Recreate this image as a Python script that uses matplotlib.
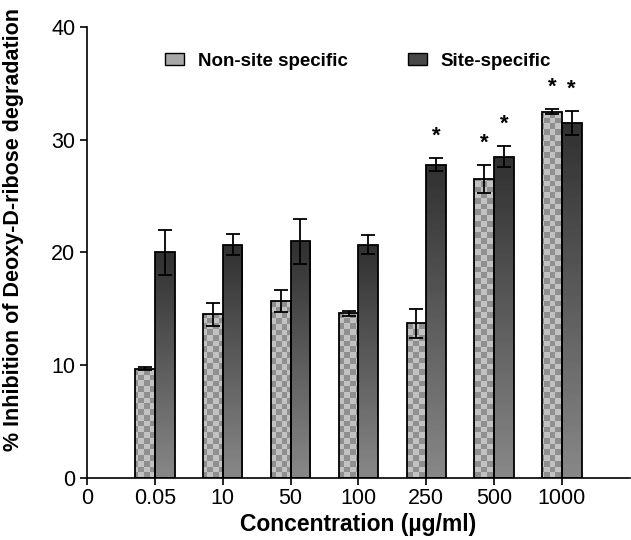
import matplotlib
matplotlib.use("Agg")
import matplotlib.pyplot as plt
import numpy as np
from matplotlib.patches import Patch

plt.rcParams['font.family'] = ['Liberation Sans', 'DejaVu Sans']

conc = ["0", "0.05", "10", "50", "100", "250", "500", "1000"]
non_site = [9.7, 14.5, 15.7, 14.6, 13.7, 26.5, 32.5]
non_site_err = [0.1, 1.0, 1.0, 0.25, 1.3, 1.25, 0.2]
site = [20.0, 20.7, 21.0, 20.7, 27.8, 28.5, 31.5]
site_err = [2.0, 0.95, 2.0, 0.85, 0.6, 0.95, 1.05]
star_non = [False, False, False, False, False, True, True]
star_site = [False, False, False, False, True, True, True]

fig = plt.figure(figsize=(6.31, 5.4), dpi=100)
ax = fig.add_axes([0.138, 0.115, 0.86, 0.835])

x = np.arange(1, len(non_site) + 1)
w = 0.29

# checkerboard for non-site bars (~5.7 px squares), gradient for site bars
cb = np.indices((79, 95)).sum(axis=0) % 2
cb_img = np.where(cb == 1, 0.76, 0.56)
grad = np.linspace(0.19, 0.53, 100).reshape(-1, 1)

b1 = ax.bar(x - w / 2, non_site, w, facecolor='none', edgecolor='black', linewidth=1.3, zorder=3)
b2 = ax.bar(x + w / 2, site, w, facecolor='none', edgecolor='black', linewidth=1.3, zorder=3)

for r in b1:
    im = ax.imshow(cb_img, cmap='gray', vmin=0, vmax=1, aspect='auto',
                   extent=(0, 8, 0, 40), zorder=2, interpolation='nearest')
    im.set_clip_path(r)
for r in b2:
    x0, y1 = r.get_x(), r.get_height()
    im = ax.imshow(grad, cmap='gray', vmin=0, vmax=1, aspect='auto',
                   extent=(x0, x0 + r.get_width(), 0, y1), zorder=2)
    im.set_clip_path(r)

ax.errorbar(x - w / 2, non_site, yerr=non_site_err, fmt='none', ecolor='black',
            elinewidth=1.3, capsize=5, capthick=1.3, zorder=4)
ax.errorbar(x + w / 2, site, yerr=site_err, fmt='none', ecolor='black',
            elinewidth=1.3, capsize=5, capthick=1.3, zorder=4)

for i in range(len(x)):
    if star_non[i]:
        ax.text(x[i] - w / 2, non_site[i] + non_site_err[i] + 1.0, "*",
                ha='center', va='bottom', fontsize=16, fontweight='bold')
    if star_site[i]:
        ax.text(x[i] + w / 2, site[i] + site_err[i] + 1.0, "*",
                ha='center', va='bottom', fontsize=16, fontweight='bold')

ax.set_xlim(0, 8)
ax.set_ylim(0, 40)
ax.set_xticks(range(len(conc)))
ax.set_xticklabels(conc)
ax.set_yticks([0, 10, 20, 30, 40])
ax.tick_params(axis='both', labelsize=15.5, direction='out', length=5, width=1.2)
ax.tick_params(axis='x', pad=2)
for s in ['top', 'right']:
    ax.spines[s].set_visible(False)
for s in ['left', 'bottom']:
    ax.spines[s].set_linewidth(1.2)

ax.set_xlabel("Concentration (µg/ml)", fontsize=16.5, fontweight='bold', labelpad=3)
ax.set_ylabel("% Inhibition of Deoxy-D-ribose degradation", fontsize=15.5,
              fontweight='bold')
ax.yaxis.set_label_coords(-0.116, 0.55)

handles = [Patch(facecolor='#a8a8a8', edgecolor='black', linewidth=1),
           Patch(facecolor='#484848', edgecolor='black', linewidth=1)]
ax.legend(handles, ["Non-site specific", "Site-specific"], ncol=2, frameon=False,
          loc='upper center', bbox_to_anchor=(0.5, 0.98), columnspacing=3.2,
          handlelength=1.0, handleheight=0.6, handletextpad=0.75,
          prop={'weight': 'bold', 'size': 13.5})

fig.savefig("out.png", dpi=100)
